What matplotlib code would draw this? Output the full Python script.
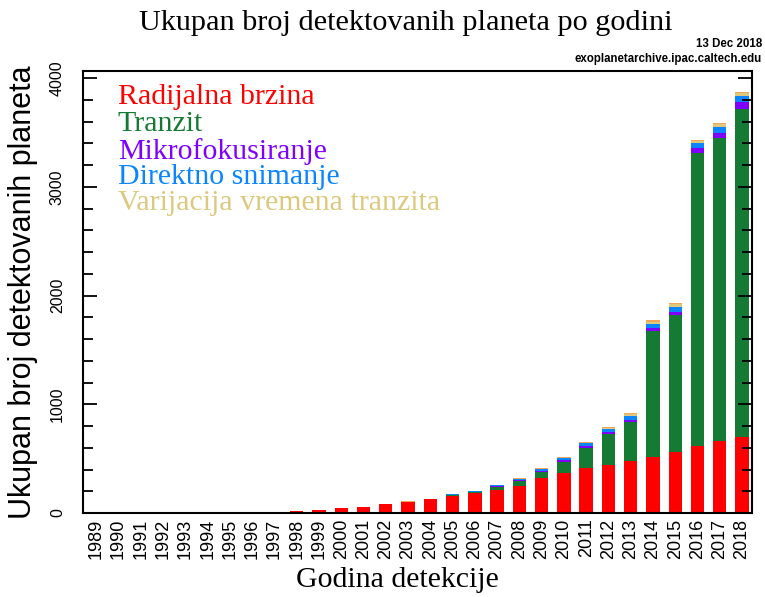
import numpy as np
import matplotlib
matplotlib.use("Agg")
import matplotlib.pyplot as plt
from matplotlib.ticker import MultipleLocator
from matplotlib import font_manager

# godine otkrića
godine = list(range(1989, 2019))

# kumulativni broj planeta po metodi (procjena s grafikona)
radijalna = [1, 1, 1, 1, 1, 1, 2, 7, 8, 14, 28, 43, 55, 83, 104, 127, 156, 181, 214, 251,
             322, 364, 411, 441, 478, 515, 564, 616, 659, 702]
tranzit = [0, 0, 0, 0, 0, 0, 0, 0, 0, 0, 0, 0, 0, 1, 1, 1, 8, 10, 28, 43,
           58, 107, 184, 284, 356, 1156, 1257, 2694, 2789, 3010]
mikrofokus = [0, 0, 0, 0, 0, 0, 0, 0, 0, 0, 0, 0, 0, 0, 0, 1, 4, 4, 5, 8,
              9, 12, 17, 20, 25, 30, 32, 43, 49, 67]
snimanje = [0, 0, 0, 0, 0, 0, 0, 0, 0, 0, 0, 0, 0, 0, 0, 0, 3, 3, 6, 14,
            20, 22, 28, 30, 35, 39, 46, 46, 52, 55]
ttv = [0, 0, 0, 0, 0, 0, 0, 0, 0, 0, 0, 0, 0, 0, 0, 0, 0, 0, 0, 0,
       0, 1, 5, 9, 13, 21, 21, 24, 25, 28]
ostalo = [0, 0, 0, 2, 2, 3, 3, 3, 3, 3, 3, 3, 3, 3, 3, 3, 4, 4, 5, 6,
          8, 8, 8, 9, 10, 11, 11, 12, 12, 12]

serije = [radijalna, tranzit, mikrofokus, snimanje, ttv, ostalo]
boje = ["#ff0000", "#147a34", "#7f00ff", "#0a84ff", "#dcc97e", "#f2a65a"]
nazivi = ["Radijalna brzina", "Tranzit", "Mikrofokusiranje", "Direktno snimanje",
          "Varijacija vremena tranzita"]

# uski font za brojeve na y osi ako postoji
imena = {f.name for f in font_manager.fontManager.ttflist}
if "Liberation Sans Narrow" in imena:
    ytick_font, ytick_size = "Liberation Sans Narrow", 13
else:
    ytick_font, ytick_size = "Liberation Sans", 11.5

fig = plt.figure(figsize=(7.65, 5.97), dpi=100)
ax = fig.add_axes([0.1085, 0.1407, 0.8745, 0.7403])

x = np.arange(len(godine))
dno = np.zeros(len(godine))
for vals, c in zip(serije, boje):
    ax.bar(x, vals, bottom=dno, width=0.6, color=c, edgecolor="none")
    dno = dno + np.array(vals)

ax.set_xlim(-0.6, 29.45)
ax.set_ylim(0, 4065)

ax.set_xticks(x)
ax.set_xticklabels([str(g) for g in godine], rotation=90, fontsize=13,
                   family="Liberation Sans")
ax.tick_params(axis="x", length=0, pad=4)

ax.yaxis.set_major_locator(MultipleLocator(1000))
ax.yaxis.set_minor_locator(MultipleLocator(200))
ax.tick_params(axis="y", which="both", direction="in", left=True, right=True, width=1.3)
ax.tick_params(axis="y", which="major", length=10, labelsize=ytick_size, pad=13)
ax.tick_params(axis="y", which="minor", length=7)
for lab in ax.get_yticklabels():
    lab.set_rotation(90)
    lab.set_va("center")
    lab.set_family(ytick_font)

for s in ax.spines.values():
    s.set_linewidth(1.5)

ax.set_ylabel("Ukupan broj detektovanih planeta", fontsize=22, family="Liberation Sans")
ax.yaxis.set_label_coords(-0.068, 0.5)
fig.text(0.52, 0.029, "Godina detekcije", fontsize=21.5, family="Liberation Serif",
         ha="center", va="center")

fig.text(0.531, 0.962, "Ukupan broj detektovanih planeta po godini", fontsize=21.8,
         family="Liberation Serif", ha="center", va="center")
fig.text(0.996, 0.927, "13 Dec 2018", fontsize=8.3, fontweight="bold",
         family="Liberation Sans", ha="right", va="center")
fig.text(0.996, 0.902, "exoplanetarchive.ipac.caltech.edu", fontsize=8.3, fontweight="bold",
         family="Liberation Sans", ha="right", va="center")

# legenda kao obojeni tekst
ypos = [0.941, 0.880, 0.819, 0.760, 0.702]
for naziv, c, yy in zip(nazivi, boje, ypos):
    ax.text(0.052, yy, naziv, color=c, fontsize=21.5, family="Liberation Serif",
            transform=ax.transAxes, va="center", ha="left")

fig.savefig("out.png", dpi=100)
